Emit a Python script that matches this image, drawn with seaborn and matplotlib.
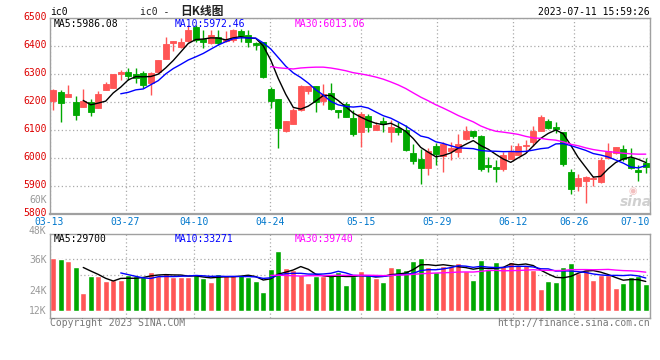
import numpy as np
import pandas as pd
import matplotlib
matplotlib.use("Agg")
import matplotlib.pyplot as plt
import matplotlib.transforms as mtrans
import seaborn as sns

sns.set_theme(style="white")
plt.rcParams['font.family'] = ['DejaVu Sans Mono', 'Noto Sans CJK SC']

# ---------------- data ----------------
opens = [6204, 6235, 6219, 6199, 6183, 6199, 6180, 6243, 6251, 6299,
         6308, 6299, 6305, 6267, 6306, 6354, 6412, 6395, 6418, 6469,
         6425, 6410, 6431, 6418, 6421, 6455, 6439, 6410, 6413, 6246,
         6211, 6096, 6121, 6170, 6240, 6257, 6205, 6233, 6171, 6193,
         6144, 6092, 6150, 6100, 6132, 6094, 6106, 6099, 6019, 5996,
         5963, 6044, 6008, 6025, 6020, 6067, 6095, 6080, 5975, 5969,
         5961, 5997, 6011, 6043, 6058, 6096, 6132, 6112, 6092, 5949,
         5900, 5918, 5924, 5915, 5999, 6018, 6032, 5999, 5957, 5983]
highs = [6246, 6243, 6261, 6221, 6246, 6211, 6239, 6273, 6300, 6314,
         6320, 6323, 6311, 6306, 6351, 6433, 6419, 6427, 6475, 6475,
         6457, 6457, 6457, 6454, 6460, 6460, 6457, 6415, 6415, 6255,
         6212, 6133, 6180, 6261, 6258, 6258, 6263, 6267, 6172, 6199,
         6171, 6165, 6157, 6130, 6148, 6136, 6130, 6118, 6050, 6032,
         6037, 6052, 6058, 6058, 6085, 6115, 6096, 6081, 6004, 5993,
         6020, 6048, 6053, 6064, 6115, 6155, 6140, 6130, 6094, 5960,
         5943, 5935, 5935, 6005, 6052, 6040, 6046, 6037, 5975, 5999]
lows = [6171, 6130, 6217, 6137, 6182, 6150, 6179, 6242, 6250, 6279,
        6279, 6267, 6251, 6225, 6305, 6352, 6383, 6394, 6413, 6415,
        6394, 6408, 6404, 6415, 6415, 6415, 6398, 6386, 6287, 6177,
        6037, 6094, 6120, 6168, 6227, 6165, 6189, 6173, 6142, 6147,
        6080, 6040, 6094, 6099, 6094, 6058, 6082, 6025, 5977, 5906,
        5939, 5975, 5951, 5992, 6005, 6065, 6070, 5955, 5951, 5915,
        5955, 5995, 6010, 6023, 6044, 6095, 6104, 6090, 5973, 5871,
        5883, 5840, 5900, 5912, 5996, 6013, 5990, 5962, 5918, 5946]
closes = [6243, 6198, 6229, 6154, 6204, 6165, 6229, 6264, 6300, 6308,
          6294, 6287, 6261, 6305, 6350, 6407, 6418, 6413, 6457, 6421,
          6415, 6439, 6410, 6424, 6457, 6437, 6415, 6404, 6289, 6204,
          6108, 6132, 6171, 6258, 6257, 6199, 6230, 6174, 6165, 6148,
          6085, 6158, 6111, 6118, 6123, 6111, 6094, 6029, 5990, 5965,
          6025, 6014, 6051, 6035, 6050, 6095, 6080, 5962, 5969, 5960,
          6011, 6020, 6043, 6046, 6096, 6146, 6108, 6104, 5980, 5889,
          5927, 5933, 5930, 5993, 6025, 6039, 5996, 5965, 5951, 5969]
volumes = [56000, 55000, 52800, 46700, 19000, 37200, 37200, 32000, 32700, 32700,
           38000, 37200, 36200, 41100, 37200, 40100, 35600, 35600, 35600, 38000,
           34500, 30900, 39000, 38000, 38000, 38000, 35600, 31700, 20000, 44300,
           63000, 45700, 43300, 38000, 29900, 37200, 37200, 39000, 41100, 27400,
           37200, 42200, 38000, 34500, 30600, 46400, 45400, 43300, 52800, 55900,
           46700, 41100, 47500, 47500, 50600, 42200, 32700, 53800, 44300, 51700,
           47500, 51700, 48500, 48500, 43300, 23200, 31700, 30600, 46400, 50600,
           40100, 43300, 32700, 38000, 38000, 24300, 29500, 36200, 37200, 28500]
date_labels = ['03-13', '03-27', '04-10', '04-24', '05-15', '05-29', '06-12', '06-26', '07-10']
date_days = [0, 10, 19, 29, 41, 51, 61, 69, 79]
price_ticks = [5800, 5900, 6000, 6100, 6200, 6300, 6400, 6500]
vol_tick_labels = ['60K', '48K', '36K', '24K', '12K']

UP = '#ff5555'
DOWN = '#00a800'
GRID = '#aaaaaa'
SPINE = '#a0a0a0'

df = pd.DataFrame({'open': opens, 'high': highs, 'low': lows,
                   'close': closes, 'vol': volumes})
df['i'] = np.arange(len(df))
df['dir'] = np.where(df['close'] >= df['open'], 'up', 'down')
for n in (5, 10, 30):
    df[f'ma{n}'] = df['close'].rolling(n).mean()
    df[f'vma{n}'] = df['vol'].rolling(n).mean()

W, H = 660, 360
fig = plt.figure(figsize=(6.6, 3.6), dpi=100)
fig.patch.set_facecolor('white')

def fx(x):
    return x / W

def fy(y):
    return 1 - y / H

L, R = 49.5, 649.5
ax1 = fig.add_axes([fx(L), fy(214), (R - L) / W, (214 - 18) / H])
ax2 = fig.add_axes([fx(L), fy(318), (R - L) / W, (318 - 234) / H])

n = len(df)
xpos = [min(d * 7.6 / 7.5 - 0.5, n - 0.5) for d in date_days]

for ax in (ax1, ax2):
    ax.set_facecolor('white')
    ax.set_xlim(-0.5, n - 0.5)
    for s in ax.spines.values():
        s.set_color(SPINE)
        s.set_linewidth(1)
    ax.set_xticks(xpos)
    ax.grid(axis='x', color=GRID, linestyle=(0, (1, 2)), linewidth=0.9)
    ax.tick_params(length=0)
ax1.spines['bottom'].set_linewidth(1.6)

# ---------- price panel ----------
ax1.set_ylim(5800, 6500)
ax1.set_yticks(price_ticks)
ax1.set_yticklabels([str(t) for t in price_ticks], color='#dd0000', fontsize=7)
ax1.grid(axis='y', color=GRID, linestyle=(0, (1, 2)), linewidth=0.9)
ax1.set_xticklabels(date_labels, color='#0077cc', fontsize=7)
ax1.tick_params(axis='y', pad=2.2)
ax1.tick_params(axis='x', pad=2.2)
lbls = ax1.get_xticklabels()
lbls[-1].set_horizontalalignment('right')
shift_up = mtrans.ScaledTranslation(0, 2.2 / 100, fig.dpi_scale_trans)
for t in ax1.get_yticklabels():
    t.set_transform(t.get_transform() + shift_up)

colors = np.where(df['dir'] == 'up', UP, DOWN)
ax1.vlines(df['i'], df['low'], df['high'], colors=colors, linewidth=1, zorder=2)
body_lo = np.minimum(df['open'], df['close'])
body_h = np.abs(df['close'] - df['open'])
ax1.bar(df['i'], body_h, bottom=body_lo, width=0.76, color=colors,
        edgecolor=colors, linewidth=0.6, zorder=3)

for col, c in (('ma5', 'black'), ('ma10', '#0000ff'), ('ma30', '#ff00ff')):
    sns.lineplot(data=df, x='i', y=col, ax=ax1, color=c, linewidth=1, zorder=4)
ax1.set_xlabel('')
ax1.set_ylabel('')

# ---------- volume panel ----------
ax2.set_ylim(-7400, 81200)
ax2.set_yticks([])
sns.barplot(data=df, x='i', y='vol', hue='dir', palette={'up': UP, 'down': DOWN},
            dodge=False, native_scale=True, width=0.8, saturation=1,
            legend=False, ax=ax2, zorder=2)
for col, c in (('vma5', 'black'), ('vma10', '#0000ff'), ('vma30', '#ff00ff')):
    sns.lineplot(data=df, x='i', y=col, ax=ax2, color=c, linewidth=1, zorder=4)
ax2.set_xlim(-0.5, n - 0.5)
ax2.set_xticks(xpos)
ax2.set_xticklabels([])
ax2.set_xlabel('')
ax2.set_ylabel('')
for yv in (259, 275.5, 295):
    ax2.axhline((311 - yv) * 1055, color=GRID, linestyle=(0, (1, 2)), linewidth=0.9, zorder=1)

# ---------- texts ----------
fs = 7
fig.text(fx(50), fy(12), 'ic0', ha='left', va='center', fontsize=fs, color='black')
fig.text(fx(140), fy(12), 'ic0 -', ha='left', va='center', fontsize=fs, color='#222222')
fig.text(fx(180), fy(12), '日K线图', ha='left', va='center', fontsize=8.5,
         family=['Noto Sans CJK SC'], fontweight='bold', color='#222222')
fig.text(fx(649.5), fy(12), '2023-07-11 15:59:26', ha='right', va='center',
         fontsize=fs, color='black')

fig.text(fx(54), fy(24), 'MA5:5986.08', ha='left', va='center', fontsize=fs, color='black')
fig.text(fx(175), fy(24), 'MA10:5972.46', ha='left', va='center', fontsize=fs, color='#0000ff')
fig.text(fx(295), fy(24), 'MA30:6013.06', ha='left', va='center', fontsize=fs, color='#ff00ff')

fig.text(fx(54), fy(238.5), 'MA5:29700', ha='left', va='center', fontsize=fs, color='black')
fig.text(fx(175), fy(238.5), 'MA10:33271', ha='left', va='center', fontsize=fs, color='#0000ff')
fig.text(fx(295), fy(238.5), 'MA30:39740', ha='left', va='center', fontsize=fs, color='#ff00ff')

for lab, yv in zip(vol_tick_labels, (200, 231, 260, 290.5, 310.5)):
    fig.text(fx(46.5), fy(yv), lab, ha='right', va='center', fontsize=fs, color='#999999')

fig.text(fx(50), fy(323.5), 'Copyright 2023 SINA.COM', ha='left', va='center',
         fontsize=fs, color='#777777')
fig.text(fx(649.5), fy(323.5), 'http://finance.sina.com.cn', ha='right', va='center',
         fontsize=fs, color='#777777')

# watermark
fig.text(fx(636), fy(202), 'sina', ha='center', va='center', fontsize=10,
         family=['DejaVu Sans'], fontstyle='italic', fontweight='bold', color='#d0d0d0')
fig.text(fx(633), fy(191), '◉', ha='center', va='center', fontsize=7,
         family=['DejaVu Sans'], color='#f2c0c0')

fig.savefig('out.png', dpi=100, facecolor='white')
